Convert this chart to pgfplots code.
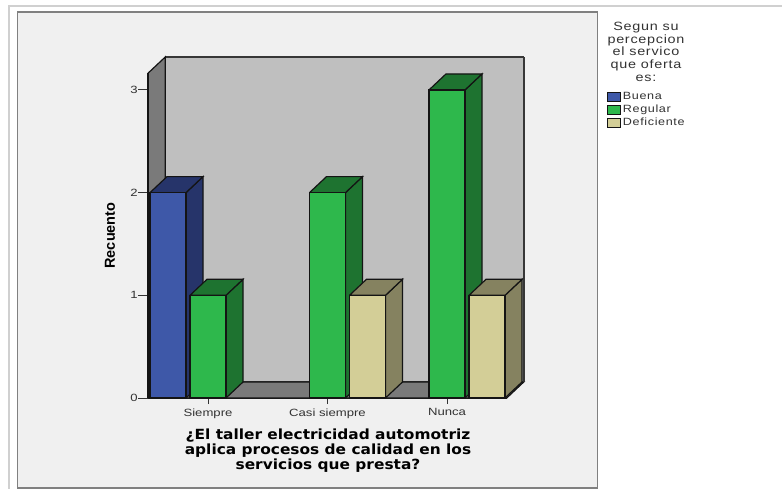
\documentclass[border=0pt]{standalone}
\usepackage{pgfplots}
\usepackage{fontspec}
\pgfplotsset{compat=1.18}
\setmainfont{Liberation Sans}[FakeStretch=1.25]
\newfontfamily\legendfont{Liberation Sans}[FakeStretch=1.2,LetterSpace=6]
\newfontfamily\ylabelfont{Liberation Sans}
\newfontfamily\titlefont{DejaVu Sans}[FakeStretch=1.1]
\definecolor{panel}{HTML}{F0F0F0}
\definecolor{frameline}{HTML}{808080}
\definecolor{outerline}{HTML}{D0D0D0}
\definecolor{wall}{HTML}{BFBFBF}
\definecolor{sidewall}{HTML}{7A7A7A}
\definecolor{edge}{HTML}{141414}
\definecolor{txt}{HTML}{333333}
\definecolor{buena}{HTML}{3E58A8}
\definecolor{buenaD}{HTML}{26346A}
\definecolor{regular}{HTML}{2EB84C}
\definecolor{regularD}{HTML}{1E7330}
\definecolor{deficiente}{HTML}{D3CE97}
\definecolor{deficienteD}{HTML}{858260}

% one extruded bar: category, cluster offset in pt, value, front, shaded faces
\newcommand{\solidbar}[5]{%
  \pgfmathsetmacro\xl{#1+#2/119.5-0.1506}%
  \pgfmathsetmacro\xr{#1+#2/119.5+0.1506}%
  \pgfmathsetmacro\xlb{\xl+0.1423}%
  \pgfmathsetmacro\xrb{\xr+0.1423}%
  \pgfmathsetmacro\yb{#3+0.156}%
  \addplot[fill=#5,draw=edge,line width=1.2pt,forget plot] coordinates
    {(\xr,0) (\xrb,0.156) (\xrb,\yb) (\xr,#3) (\xr,0)};
  \addplot[fill=#5,draw=edge,line width=1.2pt,forget plot] coordinates
    {(\xl,#3) (\xlb,\yb) (\xrb,\yb) (\xr,#3) (\xl,#3)};
  \addplot[ybar,bar width=36pt,bar shift=#2pt,fill=#4,draw=edge,line width=1.2pt,forget plot]
    coordinates {(#1,#3)};
}

\begin{document}
\begin{tikzpicture}[x=1pt,y=1pt]
  \useasboundingbox (0,0) rectangle (782,-489);
  \fill[white] (0,0) rectangle (782,-489);
  \draw[outerline,line width=1.2pt] (9,-489) -- (9,-6) -- (782,-6);
  \draw[frameline,line width=1.2pt,fill=panel] (17.5,-12) rectangle (597.5,-488);

  \begin{axis}[
    at={(148.25pt,-398pt)}, anchor=south west,
    scale only axis, width=358.5pt, height=325pt,
    xmin=-0.5, xmax=2.5, ymin=0, ymax=3.165,
    clip=false,
    axis x line=bottom, axis y line=left,
    axis line style={-,line width=1.6pt,color=edge},
    xtick=\empty,
    extra x ticks={0,1,2},
    extra x tick labels={Siempre,Casi siempre,Nunca},
    extra x tick style={major tick length=6pt,tick style={color=txt,line width=0.9pt}},
    ytick={0,1,2,3},
    tick align=outside,
    major tick length=10pt,
    y tick style={color=txt,line width=0.9pt},
    /pgf/number format/assume math mode=true,
    tick label style={font=\fontsize{10.5}{12}\selectfont,text=txt},
    xticklabel style={yshift=-1pt},
    yticklabel style={xshift=3pt},
    ylabel={\fontsize{14.5}{16}\ylabelfont\bfseries\selectfont Recuento},
    ylabel style={at={(axis description cs:-0.083,0.5)},anchor=south,text=black},
    legend cell align=left,
    legend image code/.code={\draw[#1] (0pt,-4.5pt) rectangle (13pt,4.5pt);},
    legend style={draw=none,fill=none,at={(1.2797,0.946)},anchor=north west,
      font=\fontsize{10.5}{11}\legendfont\selectfont,text=txt,inner sep=0pt,outer sep=0pt,
      row sep=0pt,/tikz/every even column/.append style={column sep=3pt}},
  ]
    % back wall, side wall and floor of the chart box
    \addplot[fill=wall,draw=edge!85,line width=1.2pt,forget plot] coordinates
      {(-0.3577,0.156) (-0.3577,3.321) (2.6423,3.321) (2.6423,0.156) (-0.3577,0.156)};
    \addplot[fill=sidewall,draw=edge,line width=1.2pt,forget plot] coordinates
      {(-0.5,0) (-0.5,3.165) (-0.3577,3.321) (-0.3577,0.156) (-0.5,0)};
    \addplot[fill=sidewall,draw=edge,line width=1.2pt,forget plot] coordinates
      {(-0.5,0) (2.5,0) (2.6423,0.156) (-0.3577,0.156) (-0.5,0)};
    \addplot[draw=edge!85,line width=2.4pt,forget plot] coordinates
      {(2.6423,0.156) (2.6423,3.321)};

    % Siempre
    \solidbar{0}{-40}{2}{buena}{buenaD}
    \solidbar{0}{0}{1}{regular}{regularD}
    % Casi siempre
    \solidbar{1}{0}{2}{regular}{regularD}
    \solidbar{1}{40}{1}{deficiente}{deficienteD}
    % Nunca
    \solidbar{2}{0}{3}{regular}{regularD}
    \solidbar{2}{40}{1}{deficiente}{deficienteD}

    \addlegendimage{fill=buena,draw=edge,line width=0.9pt}
    \addlegendentry{Buena}
    \addlegendimage{fill=regular,draw=edge,line width=0.9pt}
    \addlegendentry{Regular}
    \addlegendimage{fill=deficiente,draw=edge,line width=0.9pt}
    \addlegendentry{Deficiente}
  \end{axis}

  % horizontal axis title
  \node[align=center,font=\fontsize{14}{14.7}\titlefont\bfseries\selectfont,text=black,anchor=north]
    at (328,-425.5) {¿El taller electricidad automotriz\\aplica procesos de calidad en los\\servicios que presta?};
  % legend title
  \node[align=center,font=\fontsize{12}{12.7}\legendfont\selectfont,text=txt,anchor=north]
    at (646,-18.5) {Segun su\\percepcion\\el servico\\que oferta\\es:};
\end{tikzpicture}
\end{document}
